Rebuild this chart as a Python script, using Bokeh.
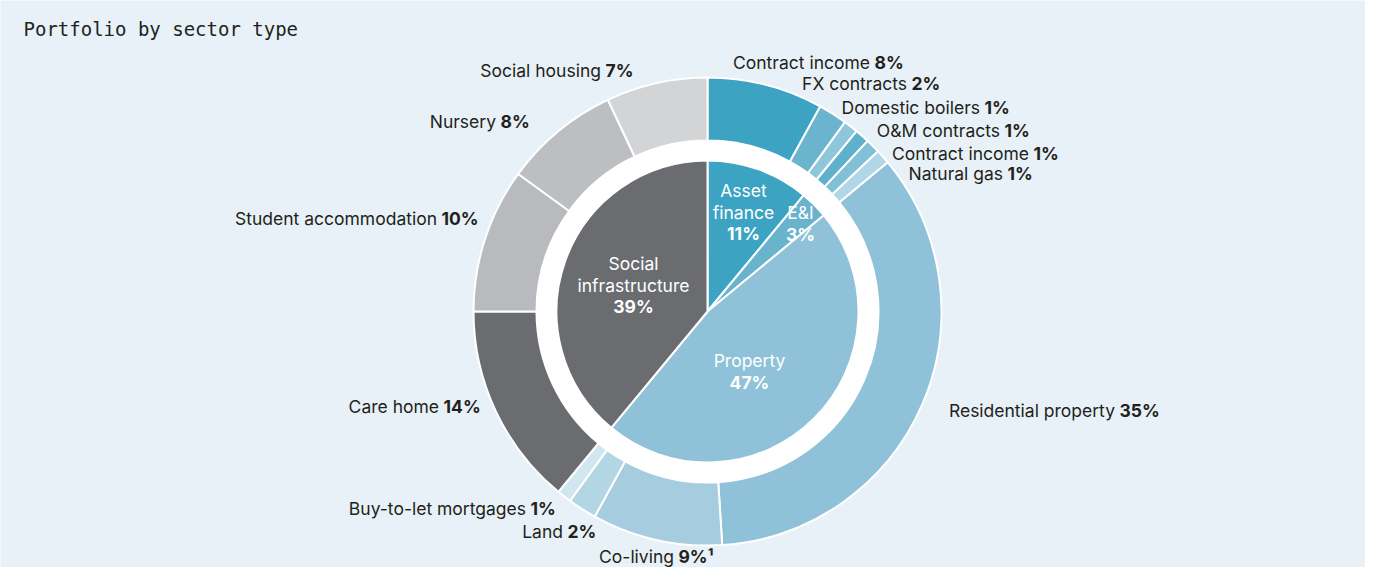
import math
from bokeh.plotting import figure
from bokeh.models import Range1d, ColumnDataSource
from bokeh.core.properties import value
from bokeh.embed import file_html
from bokeh.resources import INLINE

# ---------------- data ----------------
title_text = "Portfolio by sector type"

inner_names = ["Asset\nfinance", "E&I", "Property", "Social\ninfrastructure"]
inner_values = [11, 3, 47, 39]
inner_colors = ["#3da3c3", "#6ab3cc", "#8fc2d8", "#6b6c70"]

outer_names = ["Contract income", "FX contracts", "Domestic boilers", "O&M contracts",
               "Contract income", "Natural gas", "Residential property", "Co-living",
               "Land", "Buy-to-let mortgages", "Care home", "Student accommodation",
               "Nursery", "Social housing"]
outer_values = [8, 2, 1, 1, 1, 1, 35, 9, 2, 1, 14, 10, 8, 7]
outer_notes = ["", "", "", "", "", "", "", "\u00b9", "", "", "", "", "", ""]
outer_colors = ["#3da3c3", "#6bb4cd", "#8ec6dc", "#5fb0cc", "#82c0d7", "#b1d6e6",
                "#8fc2d8", "#a5cddf", "#b3d6e5", "#d2e6ef", "#6b6c70", "#b9babd",
                "#bdbec1", "#d3d4d6"]

# ---------------- layout ----------------
W, H = 1365, 567
def px(X):  # picture x -> data x
    return X
def py(Y):  # picture y -> data y
    return H - Y

CX, CY = px(707), py(311)
R_PIE = 151
R_RING_IN, R_RING_OUT = 171, 234

# picture positions where the bold percentage starts (name sits to its left)
outer_label_pos = [(874, 62), (911, 83), (984, 107), (1004, 130), (1033, 153), (1007, 173),
                   (1119, 410), (678, 556), (567, 531), (530, 508), (443, 406), (441, 218),
                   (500, 121), (605, 70)]
# picture positions of the first text line of inner labels (centred)
inner_label_pos = [(743, 190), (800, 212), (749, 360), (633, 263)]
LINE_H = 21.5

BG = "#e8f1f7"
TXT = "#231f20"
FONT = "Inter"
FS = "17.5px"
GAP = 4.5

def angles(vals):
    tot = float(sum(vals))
    starts, ends, cum = [], [], 0.0
    for v in vals:
        starts.append(math.pi / 2 - 2 * math.pi * cum / tot)
        cum += v
        ends.append(math.pi / 2 - 2 * math.pi * cum / tot)
    return starts, ends

p = figure(width=W, height=H, x_range=Range1d(0, W), y_range=Range1d(0, H),
           output_backend="svg", toolbar_location=None, min_border=0,
           x_axis_type=None, y_axis_type=None)
p.grid.visible = False
p.background_fill_color = BG
p.border_fill_color = BG
p.outline_line_color = None

# white separating disc
p.circle(x=[CX], y=[CY], radius=R_RING_IN + 2, fill_color="white", line_color=None)

o_start, o_end = angles(outer_values)
osrc = ColumnDataSource(dict(s=o_start, e=o_end, c=outer_colors))
p.annular_wedge(x=CX, y=CY, inner_radius=R_RING_IN, outer_radius=R_RING_OUT,
                start_angle="s", end_angle="e", direction="clock",
                fill_color="c", line_color="white", line_width=2, source=osrc)

i_start, i_end = angles(inner_values)
isrc = ColumnDataSource(dict(s=i_start, e=i_end, c=inner_colors))
p.wedge(x=CX, y=CY, radius=R_PIE, start_angle="s", end_angle="e", direction="clock",
        fill_color="c", line_color="white", line_width=2, source=isrc)

# outer labels: name (normal) + percentage (bold)
nx, ny, nt, qx, qy, qt = [], [], [], [], [], []
for name, v, note, (bx, by) in zip(outer_names, outer_values, outer_notes, outer_label_pos):
    nx.append(px(bx - GAP)); ny.append(py(by)); nt.append(name)
    qx.append(px(bx)); qy.append(py(by)); qt.append(f"{v}%{note}")
p.text(x=nx, y=ny, text=nt, text_align="right", text_baseline="middle",
       text_font=value(FONT), text_font_size=value(FS), text_color=TXT)
p.text(x=qx, y=qy, text=qt, text_align="left", text_baseline="middle",
       text_font=value(FONT), text_font_size=value(FS), text_font_style="bold", text_color=TXT)

# inner labels (white, centred)
lx, ly, lt, bx_, by_, bt = [], [], [], [], [], []
for name, v, (ax, ay) in zip(inner_names, inner_values, inner_label_pos):
    lines = name.split("\n")
    for k, ln in enumerate(lines):
        lx.append(px(ax)); ly.append(py(ay + k * LINE_H)); lt.append(ln)
    bx_.append(px(ax)); by_.append(py(ay + len(lines) * LINE_H)); bt.append(f"{v}%")
p.text(x=lx, y=ly, text=lt, text_align="center", text_baseline="middle",
       text_font=value(FONT), text_font_size=value(FS), text_color="white")
p.text(x=bx_, y=by_, text=bt, text_align="center", text_baseline="middle",
       text_font=value(FONT), text_font_size=value(FS), text_font_style="bold", text_color="white")

# title
p.text(x=[px(23)], y=[py(28)], text=[title_text], text_align="left", text_baseline="middle",
       text_font=value("DejaVu Sans Mono"), text_font_size=value("19px"), text_color=TXT)

open("out.html", "w").write(file_html(p, INLINE))
